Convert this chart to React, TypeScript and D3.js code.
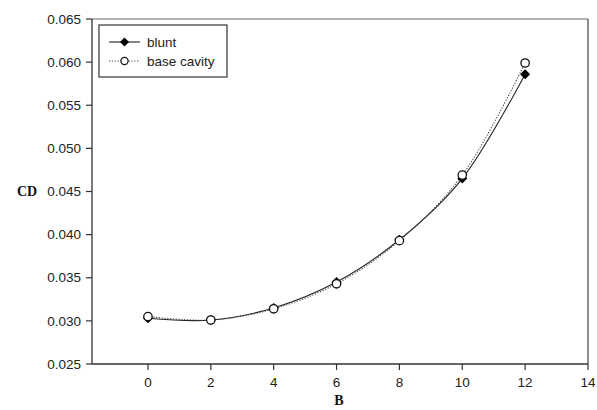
import React from "react";
import * as d3 from "d3";

const bValues = [0, 2, 4, 6, 8, 10, 12];
const bluntCd = [0.0303, 0.0301, 0.0315, 0.0345, 0.0394, 0.0465, 0.0586];
const baseCavityCd = [0.0305, 0.0301, 0.0314, 0.0343, 0.0393, 0.0469, 0.0599];
const xTicks = [0, 2, 4, 6, 8, 10, 12, 14];
const yTicks = [0.025, 0.03, 0.035, 0.04, 0.045, 0.05, 0.055, 0.06, 0.065];
const seriesNames = ["blunt", "base cavity"];

const W = 597;
const H = 410;
const left = 92;
const right = 588;
const top = 19;
const bottom = 364;

export default function App() {
  const x = d3.scaleLinear().domain([-1.78, 14]).range([left, right]);
  const y = d3.scaleLinear().domain([0.025, 0.065]).range([bottom, top]);

  const line = d3
    .line<[number, number]>()
    .x((d) => x(d[0]))
    .y((d) => y(d[1]))
    .curve(d3.curveCatmullRom.alpha(0.5));

  const blunt: [number, number][] = bValues.map((b, i) => [b, bluntCd[i]]);
  const cavity: [number, number][] = bValues.map((b, i) => [b, baseCavityCd[i]]);

  const diamond = (cx: number, cy: number, r: number) =>
    `M${cx},${cy - r}L${cx + r},${cy}L${cx},${cy + r}L${cx - r},${cy}Z`;

  const font = "'Liberation Sans', Arial, sans-serif";
  const fs = 13.5;

  return (
    <svg
      width={W}
      height={H}
      style={{ position: "absolute", left: 0, top: 0, background: "#fff" }}
    >
      {/* frame */}
      <line x1={left} x2={right} y1={top} y2={top} stroke="#666" strokeWidth={1.2} />
      <line x1={right} x2={right} y1={top} y2={bottom} stroke="#444" strokeWidth={1.2} />
      <line x1={left} x2={left} y1={top} y2={bottom} stroke="#333" strokeWidth={1.3} />
      <line x1={left} x2={right} y1={bottom} y2={bottom} stroke="#333" strokeWidth={1.3} />

      {/* y axis */}
      {yTicks.map((t) => (
        <g key={`y${t}`}>
          <line x1={left - 6} x2={left} y1={y(t)} y2={y(t)} stroke="#333" strokeWidth={1.2} />
          <text
            x={left - 11}
            y={y(t)}
            dy="0.35em"
            textAnchor="end"
            fontFamily={font}
            fontSize={fs}
            fill="#222"
          >
            {d3.format(".3f")(t)}
          </text>
        </g>
      ))}

      {/* x axis */}
      {xTicks.map((t) => (
        <g key={`x${t}`}>
          <line x1={x(t)} x2={x(t)} y1={bottom} y2={bottom + 6} stroke="#333" strokeWidth={1.2} />
          <text
            x={x(t)}
            y={bottom + 23}
            textAnchor="middle"
            fontFamily={font}
            fontSize={fs}
            fill="#222"
          >
            {t}
          </text>
        </g>
      ))}

      {/* axis titles */}
      <text
        x={(left + right) / 2 - 1}
        y={405}
        textAnchor="middle"
        fontFamily="'Liberation Serif', 'Times New Roman', serif"
        fontWeight="bold"
        fontSize={14}
        fill="#111"
      >
        B
      </text>
      <text
        x={27}
        y={y(0.045)}
        dy="0.35em"
        textAnchor="middle"
        fontFamily="'Liberation Serif', 'Times New Roman', serif"
        fontWeight="bold"
        fontSize={14}
        fill="#111"
      >
        CD
      </text>

      {/* series lines */}
      <path d={line(blunt) ?? ""} fill="none" stroke="#222" strokeWidth={1.1} />
      <path
        d={line(cavity) ?? ""}
        fill="none"
        stroke="#444"
        strokeWidth={1.1}
        strokeDasharray="1.2,1.6"
      />

      {/* markers */}
      {blunt.map((d, i) => (
        <path key={`b${i}`} d={diamond(x(d[0]), y(d[1]), 5)} fill="#000" />
      ))}
      {cavity.map((d, i) => (
        <circle
          key={`c${i}`}
          cx={x(d[0])}
          cy={y(d[1])}
          r={4.2}
          fill="#fff"
          stroke="#111"
          strokeWidth={1.3}
        />
      ))}

      {/* legend */}
      <rect x={99} y={25} width={128} height={52} fill="#fff" stroke="#444" strokeWidth={1.3} />
      <line x1={109} x2={140} y1={42} y2={42} stroke="#222" strokeWidth={1.1} />
      <path d={diamond(124.5, 42, 4.5)} fill="#000" />
      <text x={147} y={42} dy="0.35em" fontFamily={font} fontSize={fs} fill="#222">
        {seriesNames[0]}
      </text>
      <line
        x1={109}
        x2={140}
        y1={61}
        y2={61}
        stroke="#444"
        strokeWidth={1.1}
        strokeDasharray="1.2,1.6"
      />
      <circle cx={124.5} cy={61} r={3.6} fill="#fff" stroke="#111" strokeWidth={1.2} />
      <text x={147} y={61} dy="0.35em" fontFamily={font} fontSize={fs} fill="#222">
        {seriesNames[1]}
      </text>
    </svg>
  );
}
